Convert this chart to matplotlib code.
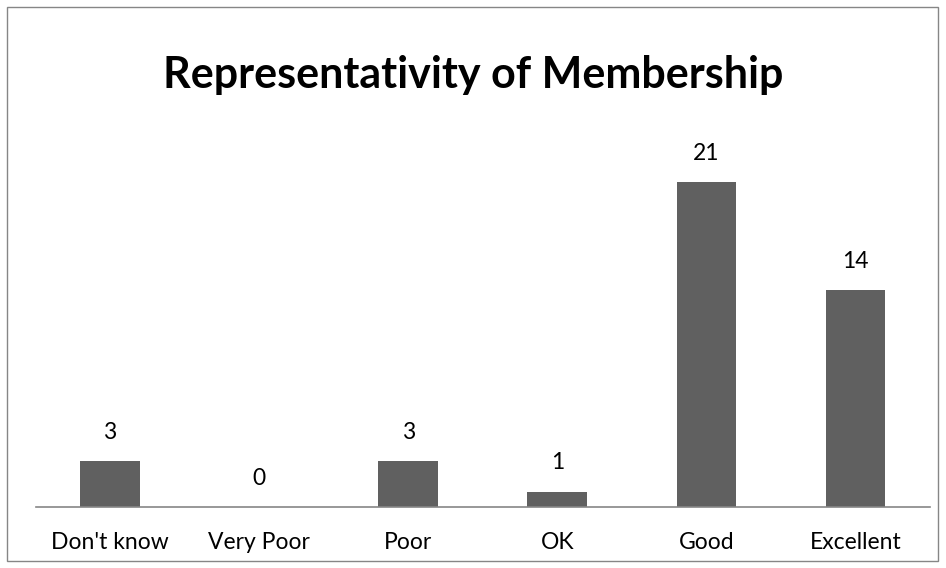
import matplotlib.pyplot as plt
from matplotlib.patches import Rectangle

# Survey answers
categories = ["Don't know", "Very Poor", "Poor", "OK", "Good", "Excellent"]
counts = [3, 0, 3, 1, 21, 14]

plt.rcParams['font.family'] = ['Lato', 'DejaVu Sans']

fig = plt.figure(figsize=(9.46, 5.68), dpi=100)
ax = fig.add_axes([35.5/946, (568-507)/568, (930-35.5)/946, 387/568])

x = range(len(categories))
bars = ax.bar(x, counts, width=0.4, color='#606060')

for xi, v in zip(x, counts):
    ax.annotate(str(v), (xi, v), xytext=(0, 13), textcoords='offset points',
                ha='center', va='bottom', fontsize=16.5)

ax.set_xlim(-0.5, len(categories) - 0.5)
ax.set_ylim(0, 25)
ax.set_xticks(list(x))
ax.set_xticklabels(categories, fontsize=16.5)
ax.tick_params(axis='x', length=0, pad=18)
ax.set_yticks([])
for s in ['top', 'right', 'left']:
    ax.spines[s].set_visible(False)
ax.spines['bottom'].set_color('#868686')
ax.spines['bottom'].set_linewidth(1.2)

fig.text(0.5, 1 - 75/568, "Representativity of Membership", ha='center', va='center',
         fontsize=31, fontweight='bold')

# chart border
fig.patches.append(Rectangle((7/946, 7/568), 931/946, 554/568, transform=fig.transFigure,
                             fill=False, edgecolor='#868686', linewidth=1))

fig.savefig('out.png', dpi=100)
